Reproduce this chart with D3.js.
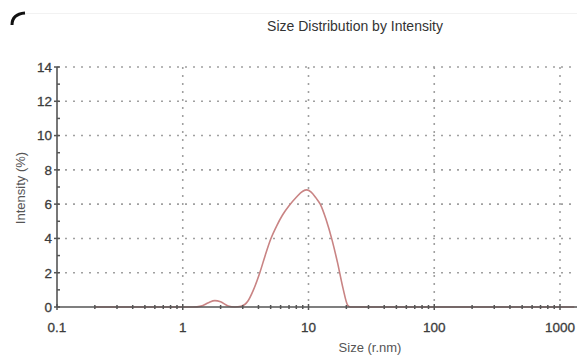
<!DOCTYPE html>
<html>
<head>
<meta charset="utf-8">
<script src="https://cdn.jsdelivr.net/npm/d3@7"></script>
<style>
  html, body { margin: 0; padding: 0; background: #fff; }
  svg { display: block; font-family: "Liberation Sans", Arial, sans-serif; }
</style>
</head>
<body>
<script>
// size distribution
const sizes = [0.2, 0.3, 0.4, 0.5, 0.6, 0.8, 1.0, 1.2, 1.4, 1.6, 1.8, 2.0, 2.3, 2.6, 2.9, 3.3, 3.6, 4.1, 4.5, 5.0, 5.6, 6.2, 7.0, 8.0, 9.0, 9.7, 10.5, 11.5, 12.4, 13.8, 15.4, 17.0, 18.8, 20.5, 21.5, 30, 50, 100, 300, 1000, 1300];
const intensity = [0, 0, 0, 0, 0, 0, 0, 0, 0.05, 0.25, 0.37, 0.3, 0.06, 0, 0.04, 0.35, 0.9, 2.0, 2.95, 3.95, 4.75, 5.35, 5.9, 6.4, 6.75, 6.83, 6.7, 6.35, 6.0, 5.1, 3.9, 2.6, 1.1, 0.1, 0, 0, 0, 0, 0, 0, 0];
const xMajor = [0.1, 1, 10, 100, 1000];
const xLabels = ["0.1", "1", "10", "100", "1000"];
const yMajor = [0, 2, 4, 6, 8, 10, 12, 14];
const yMinor = [1, 3, 5, 7, 9, 11, 13];

const title = "Size Distribution by Intensity";
const xTitle = "Size (r.nm)";
const yTitle = "Intensity (%)";

const W = 577, H = 356;
const m = { left: 57, right: 0, top: 67, bottom: 49 };

const svg = d3.select("body").append("svg").attr("width", W).attr("height", H);

const x = d3.scaleLog().domain([0.1, Math.pow(10, 3 + 17 / 125.75)]).range([m.left, W - m.right]);
const y = d3.scaleLinear().domain([0, 14]).range([H - m.bottom, m.top]);

const xMinor = [];
[0.1, 1, 10, 100, 1000].forEach((d) => {
  for (let k = 2; k <= 9; k++) {
    if (d * k < x.domain()[1]) xMinor.push(d * k);
  }
});

// scan artefact in corner
svg.append("path")
  .attr("d", "M12,25 Q12,14 25,13")
  .attr("fill", "none")
  .attr("stroke", "#111")
  .attr("stroke-width", 3);
svg.append("line")
  .attr("x1", 25).attr("x2", W).attr("y1", 13.5).attr("y2", 13.5)
  .attr("stroke", "#f2f2f2");

// grid
const grid = svg.append("g").attr("stroke", "#a0a0a0").attr("stroke-width", 1.6).attr("stroke-dasharray", "2,6");
grid.selectAll("line.h")
  .data(yMajor.filter((d) => d > 0))
  .join("line")
  .attr("x1", m.left).attr("x2", W)
  .attr("y1", (d) => y(d)).attr("y2", (d) => y(d));
grid.selectAll("line.v")
  .data(xMajor.filter((d) => d > 0.1))
  .join("line")
  .attr("x1", (d) => x(d)).attr("x2", (d) => x(d))
  .attr("y1", y(14)).attr("y2", y(0));

// curve
const line = d3.line()
  .x((d) => x(d[0]))
  .y((d) => y(d[1]))
  .curve(d3.curveMonotoneX);

svg.append("path")
  .datum(sizes.map((s, i) => [s, intensity[i]]))
  .attr("d", line)
  .attr("fill", "none")
  .attr("stroke", "#c98484")
  .attr("stroke-width", 1.6);

// axes
const ax = svg.append("g").attr("stroke", "#555");
ax.append("line")
  .attr("x1", m.left).attr("x2", W)
  .attr("y1", y(0)).attr("y2", y(0))
  .attr("stroke-width", 1.6);
ax.append("line")
  .attr("x1", m.left).attr("x2", m.left)
  .attr("y1", y(14)).attr("y2", y(0))
  .attr("stroke-width", 1.6);

ax.selectAll("line.xmin")
  .data(xMinor)
  .join("line")
  .attr("x1", (d) => x(d)).attr("x2", (d) => x(d))
  .attr("y1", y(0) - 2).attr("y2", y(0) + 2)
  .attr("stroke-width", 1.5);
ax.selectAll("line.xmaj")
  .data(xMajor)
  .join("line")
  .attr("x1", (d) => x(d)).attr("x2", (d) => x(d))
  .attr("y1", y(0) - 3).attr("y2", y(0) + 3)
  .attr("stroke-width", 1.5);
ax.selectAll("line.ymaj")
  .data(yMajor)
  .join("line")
  .attr("x1", m.left - 3).attr("x2", m.left + 3)
  .attr("y1", (d) => y(d)).attr("y2", (d) => y(d))
  .attr("stroke-width", 1.5);
ax.selectAll("line.ymin")
  .data(yMinor)
  .join("line")
  .attr("x1", m.left).attr("x2", m.left + 3)
  .attr("y1", (d) => y(d)).attr("y2", (d) => y(d))
  .attr("stroke-width", 1.5);

// tick labels
svg.append("g")
  .selectAll("text")
  .data(yMajor)
  .join("text")
  .attr("x", m.left - 5)
  .attr("y", (d) => y(d))
  .attr("dy", "0.36em")
  .attr("text-anchor", "end")
  .attr("font-size", 13.5)
  .attr("fill", "#3c3c3c")
  .attr("stroke", "#3c3c3c")
  .attr("stroke-width", 0.3)
  .text((d) => d);

svg.append("g")
  .selectAll("text")
  .data(xMajor)
  .join("text")
  .attr("x", (d) => x(d))
  .attr("y", y(0) + 25)
  .attr("text-anchor", "middle")
  .attr("font-size", 13.5)
  .attr("fill", "#3c3c3c")
  .attr("stroke", "#3c3c3c")
  .attr("stroke-width", 0.3)
  .text((d, i) => xLabels[i]);

// titles
svg.append("text")
  .attr("x", 355).attr("y", 31)
  .attr("text-anchor", "middle")
  .attr("font-size", 14)
  .attr("fill", "#333")
  .text(title);

svg.append("text")
  .attr("x", 370).attr("y", 352)
  .attr("text-anchor", "middle")
  .attr("font-size", 13)
  .attr("fill", "#555")
  .text(xTitle);

svg.append("text")
  .attr("transform", "translate(25,188) rotate(-90)")
  .attr("text-anchor", "middle")
  .attr("font-size", 13)
  .attr("fill", "#555")
  .text(yTitle);
</script>
</body>
</html>
